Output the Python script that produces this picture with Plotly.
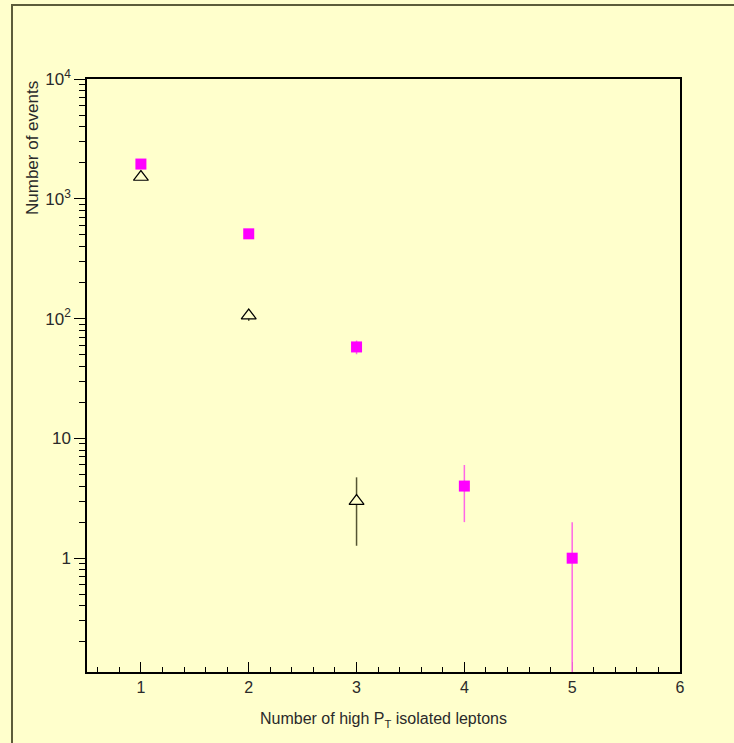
import plotly.graph_objects as go

# Data
n_leptons = [1, 2, 3, 4, 5]
data_counts = [1950, 510, 58, 4, 1]
data_err_up = [44, 22.6, 7.6, 2, 1]
data_err_dn = [44, 22.6, 7.6, 2, 1]

mc_x = [1, 2, 3]
mc_counts = [1520, 106, 3]
mc_err = [39, 10.3, 1.73]

y_tickvals = [1, 10, 100, 1000, 10000]
y_ticktext = ["1", "10", "10<sup>2</sup>", "10<sup>3</sup>", "10<sup>4</sup>"]
y_minor = [m * 10 ** k for k in range(-1, 4) for m in range(2, 10)]

BG = "#ffffcc"
FONT = "Liberation Sans, Arial, sans-serif"
TXT = "#2a2a2a"

fig = go.Figure()
fig.add_trace(go.Scatter(
    x=mc_x, y=mc_counts, mode="markers",
    marker=dict(symbol="triangle-up", size=13, color=BG,
                line=dict(width=1.2, color="black")),
    error_y=dict(type="data", array=mc_err, visible=True, width=0,
                 color="#555533", thickness=1.5),
))
fig.add_trace(go.Scatter(
    x=n_leptons, y=data_counts, mode="markers",
    marker=dict(symbol="square", size=11, color="#ff00ff",
                line=dict(width=0)),
    error_y=dict(type="data", array=data_err_up, arrayminus=data_err_dn,
                 symmetric=False, visible=True, width=0,
                 color="#ff66e6", thickness=1.5),
))

L, R, T, B = 87, 54, 79, 71
W, H = 734, 743
pw, ph = W - L - R, H - T - B

def px(x):
    return (x - L) / pw

def py(y):
    return (H - B - y) / ph

fig.add_shape(type="rect", xref="paper", yref="paper",
              x0=px(12), x1=px(760), y0=py(5), y1=py(780),
              line=dict(color="#5c5c3a", width=2), layer="below")

fig.add_annotation(text="Number of events", xref="paper", yref="paper",
                   x=px(32), y=1.0, textangle=-90, showarrow=False,
                   xanchor="center", yanchor="top",
                   font=dict(family=FONT, size=17, color=TXT))

fig.update_layout(
    width=W, height=H, showlegend=False,
    paper_bgcolor=BG, plot_bgcolor=BG,
    margin=dict(l=L, r=R, t=T, b=B, pad=0),
    font=dict(family=FONT, size=14, color=TXT),
    xaxis=dict(
        range=[0.5, 6], showgrid=False, zeroline=False, layer="below traces",
        showline=True, linecolor="black", linewidth=1.5, mirror=True,
        ticks="inside", ticklen=10, tickcolor="black", tickwidth=1,
        tickmode="array", tickvals=[1, 2, 3, 4, 5, 6],
        tickfont=dict(size=16),
        minor=dict(ticks="inside", ticklen=5, tickcolor="black", dtick=0.2, tick0=0,
                   showgrid=False),
        title=dict(text="Number of high P<sub>T</sub> isolated leptons",
                   font=dict(size=16), standoff=18),
    ),
    yaxis=dict(
        type="log", range=[-0.95, 4], showgrid=False, zeroline=False,
        layer="below traces",
        showline=True, linecolor="black", linewidth=1.5, mirror=True,
        ticks="outside", ticklen=11, tickcolor="black", tickwidth=1,
        tickmode="array", tickvals=y_tickvals, ticktext=y_ticktext,
        tickfont=dict(size=17),
        minor=dict(ticks="outside", ticklen=6, tickcolor="black",
                   tickmode="array", tickvals=y_minor, showgrid=False),
    ),
)

fig.write_html("out.html")
